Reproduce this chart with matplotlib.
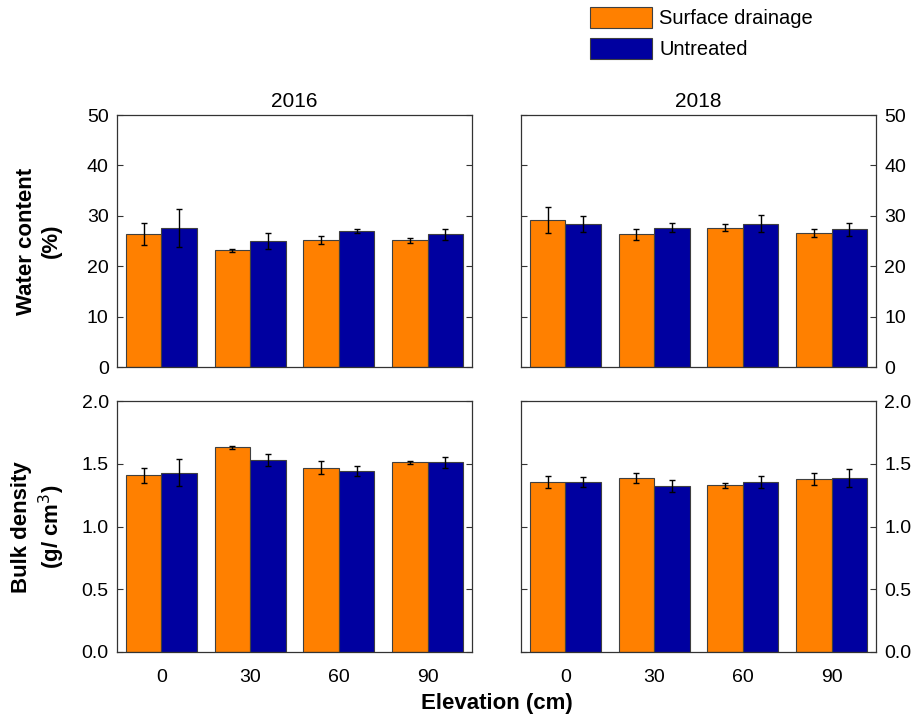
import numpy as np
import matplotlib
matplotlib.use('Agg')
from matplotlib import pyplot as plt
from matplotlib.patches import Patch

plt.rcParams['font.family'] = ['Liberation Sans', 'DejaVu Sans']

elevation = ['0', '30', '60', '90']
years = ['2016', '2018']

# water content (%)
wc_sd_2016 = [26.4, 23.2, 25.2, 25.1]
wc_sd_2016_err = [2.1, 0.3, 0.8, 0.5]
wc_ut_2016 = [27.6, 25.0, 27.0, 26.3]
wc_ut_2016_err = [3.7, 1.5, 0.4, 1.1]
wc_sd_2018 = [29.1, 26.3, 27.6, 26.6]
wc_sd_2018_err = [2.6, 1.1, 0.7, 0.8]
wc_ut_2018 = [28.4, 27.6, 28.4, 27.3]
wc_ut_2018_err = [1.6, 0.9, 1.7, 1.3]

# bulk density (g/cm3)
bd_sd_2016 = [1.41, 1.63, 1.47, 1.51]
bd_sd_2016_err = [0.06, 0.01, 0.05, 0.015]
bd_ut_2016 = [1.43, 1.53, 1.445, 1.51]
bd_ut_2016_err = [0.11, 0.045, 0.04, 0.04]
bd_sd_2018 = [1.355, 1.39, 1.33, 1.375]
bd_sd_2018_err = [0.045, 0.04, 0.02, 0.048]
bd_ut_2018 = [1.355, 1.325, 1.355, 1.385]
bd_ut_2018_err = [0.043, 0.048, 0.045, 0.07]

orange = '#FF8000'
blue = '#0000A0'
edge = '#404040'

fig = plt.figure(figsize=(9.13, 7.19), dpi=100)

L, R, W = 117/913, 521/913, 355/913
axes = {
    (0, 0): fig.add_axes([L, 1 - 367/719, W, 252/719]),
    (0, 1): fig.add_axes([R, 1 - 367/719, W, 252/719]),
    (1, 0): fig.add_axes([L, 1 - 652/719, W, 251/719]),
    (1, 1): fig.add_axes([R, 1 - 652/719, W, 251/719]),
}

data = {
    (0, 0): (wc_sd_2016, wc_sd_2016_err, wc_ut_2016, wc_ut_2016_err),
    (0, 1): (wc_sd_2018, wc_sd_2018_err, wc_ut_2018, wc_ut_2018_err),
    (1, 0): (bd_sd_2016, bd_sd_2016_err, bd_ut_2016, bd_ut_2016_err),
    (1, 1): (bd_sd_2018, bd_sd_2018_err, bd_ut_2018, bd_ut_2018_err),
}

x = np.arange(len(elevation))
w = 0.4
fs = 14

for (r, c), ax in axes.items():
    sd, sd_e, ut, ut_e = data[(r, c)]
    ekw = dict(ecolor='black', elinewidth=1, capsize=2.2, capthick=1)
    ax.bar(x - w/2, sd, w, yerr=sd_e, color=orange, edgecolor=edge, linewidth=0.8, error_kw=ekw)
    ax.bar(x + w/2, ut, w, yerr=ut_e, color=blue, edgecolor=edge, linewidth=0.8, error_kw=ekw)
    ax.set_xlim(-0.5, 3.5)
    if r == 0:
        ax.set_ylim(0, 50)
        ax.set_yticks([0, 10, 20, 30, 40, 50])
        ax.set_xticks([])
        ax.set_title(years[c], fontsize=15, pad=6)
    else:
        ax.set_ylim(0, 2.0)
        ax.set_yticks([0, 0.5, 1.0, 1.5, 2.0])
        ax.set_yticklabels(['0.0', '0.5', '1.0', '1.5', '2.0'])
        ax.set_xticks(x)
        ax.set_xticklabels(elevation, fontsize=fs)
        ax.tick_params(axis='x', length=0, pad=12)
    for s in ax.spines.values():
        s.set_color('#333333')
        s.set_linewidth(0.9)
    ax.tick_params(axis='y', left=True, right=True, direction='in', length=4,
                   labelsize=fs, color='#333333', pad=6,
                   labelleft=(c == 0), labelright=(c == 1))

fig.text(39/913, 1 - 241/719, 'Water content\n(%)', rotation=90, ha='center', va='center',
         fontsize=16, fontweight='bold', linespacing=1.25)
fig.text(39/913, 1 - 527/719, 'Bulk density\n(g/ cm$^3$)', rotation=90, ha='center', va='center',
         fontsize=16, fontweight='bold', linespacing=1.25)
fig.text(497/913, 1 - 704/719, 'Elevation (cm)', ha='center', va='center',
         fontsize=16, fontweight='bold')

handles = [Patch(facecolor=orange, edgecolor=edge, linewidth=0.8),
           Patch(facecolor=blue, edgecolor=edge, linewidth=0.8)]
fig.legend(handles, ['Surface drainage', 'Untreated'], loc='upper left',
           bbox_to_anchor=(590/913, 1 - 7/719), frameon=False, fontsize=14.5,
           handlelength=3.1, handleheight=1.2, labelspacing=0.5, handletextpad=0.35,
           borderaxespad=0, borderpad=0)

plt.savefig('out.png', dpi=100)
